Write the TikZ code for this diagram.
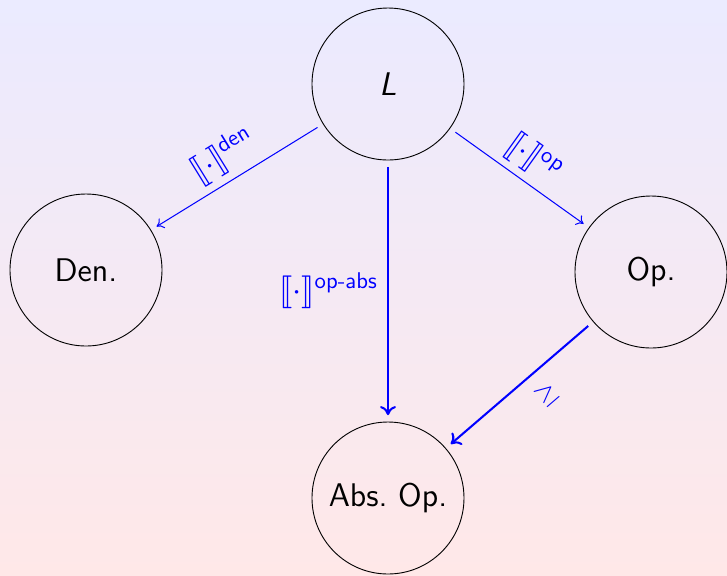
\documentclass[tikz,border=0pt]{standalone}
\usepackage{stmaryrd}
\usetikzlibrary{arrows.meta}
\newcommand{\semsup}[1]{^{\mbox{\normalsize\sffamily #1}}}
\begin{document}
\begin{tikzpicture}[x=0.44pt,y=-0.44pt,
  state/.style={circle,draw=black,line width=0.4pt,minimum size=152*0.44pt,inner sep=0pt,outer sep=3pt,font=\sffamily\Large},
  thinmap/.style={draw=blue,line width=0.45pt,-{To[length=3pt,width=5pt]}},
  boldmap/.style={draw=blue,line width=0.9pt,-{To[length=4pt,width=7pt]}},
  maplabel/.style={text=blue,font=\Large,inner sep=2pt}]
  % backdrop
  \shade[top color=blue!8!white,bottom color=red!9!white] (0,0) rectangle (727,575);
  \useasboundingbox (0,0) rectangle (727,575);

  % the four semantics
  \node[state] (L)   at (388,84)  {\textit{L}};
  \node[state] (den) at (86,270)  {Den.};
  \node[state] (op)  at (651,272) {Op.};
  \node[state] (abs) at (388,498) {Abs.\ Op.};

  % maps between them
  \draw[thinmap] (L) -- node[maplabel,above=1pt,sloped] {$\llbracket\cdot\rrbracket\semsup{den}$} (den);
  \draw[thinmap] (L) -- node[maplabel,above=1pt,sloped] {$\llbracket\cdot\rrbracket\semsup{op}$} (op);
  \draw[boldmap] (L) -- node[maplabel,left=2pt] {$\llbracket\cdot\rrbracket\semsup{op-abs}$} (abs);
  \draw[boldmap] (op) -- node[maplabel,font=\large,pos=0.42,below=4pt,sloped] {$\geq$} (abs);
\end{tikzpicture}
\end{document}
